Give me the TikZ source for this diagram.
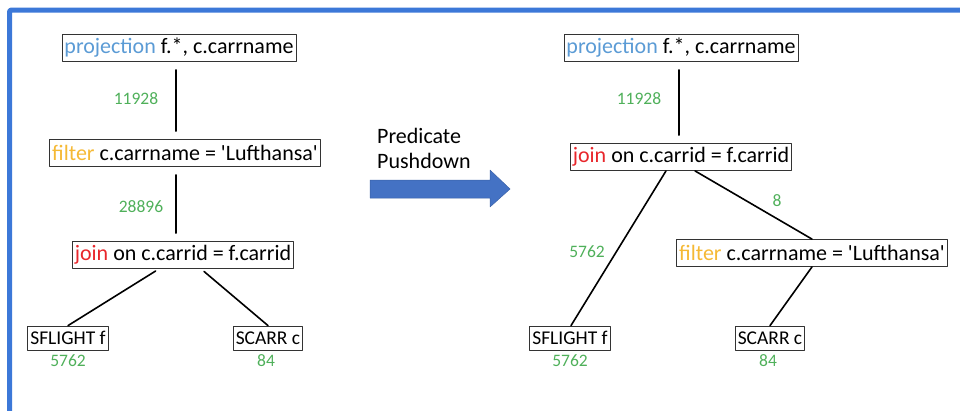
\documentclass[tikz,border=0pt]{standalone}
\usepackage{fontspec}
\setmainfont{Carlito}[Ligatures=TeXOff]
\definecolor{frameblue}{HTML}{3C78D8}
\definecolor{arrowblue}{HTML}{4472C4}
\definecolor{projblue}{HTML}{5B9BD5}
\definecolor{filtorange}{HTML}{F5B935}
\definecolor{joinred}{HTML}{E8262B}
\definecolor{rowgreen}{HTML}{4FB05A}
\begin{document}
\begin{tikzpicture}[x=1pt,y=-1pt,line join=round,line cap=round,
		op/.style={draw=black!80,line width=0.8pt,inner sep=2.5pt,minimum height=27pt,font=\fontsize{22}{26}\selectfont},
		tab/.style={draw=black!80,line width=0.8pt,inner sep=2.5pt,minimum height=24pt,font=\fontsize{19.5}{23}\selectfont},
		rows/.style={text=rowgreen,font=\fontsize{17.5}{20}\selectfont},
		edge/.style={line width=1.6pt}]
			\useasboundingbox (0,0) rectangle (960,410);
			\draw[frameblue,line width=5pt,line cap=butt,rounded corners=2pt] (9.5,412)--(9.5,10)--(962,10);
			% before pushdown
			\node[op] (p1) at (179,48) {\textcolor{projblue}{projection} f.*, c.carrname};
			\node[op] (f1) at (185,153) {\textcolor{filtorange}{filter} c.carrname = 'Lufthansa'};
			\node[op] (j1) at (183,255) {\textcolor{joinred}{join} on c.carrid = f.carrid};
			\node[tab] (s1) at (68,338) {SFLIGHT f};
			\node[tab] (c1) at (268,338) {SCARR c};
			\draw[edge,shorten <=8pt,shorten >=8pt] (p1.south-|176,0)--(f1.north-|176,0);
			\draw[edge,shorten <=8pt,shorten >=8pt] (f1.south-|176,0)--(j1.north-|176,0);
			\draw[edge,shorten <=4pt] ([xshift=-24pt]j1.south)--(s1.north);
			\draw[edge,shorten <=4pt] ([xshift=18pt]j1.south)--(c1.north);
			\node[rows] (n11) at (136,99) {11928};
			\node[rows] (n12) at (141,207) {28896};
			\node[rows] (n13) at (68,361) {5762};
			\node[rows] (n14) at (266,361) {84};
			% the rewrite
			\node[anchor=north west,align=left,inner sep=0pt,font=\fontsize{22}{25}\selectfont] (txt) at (377,128) {Predicate\\Pushdown};
			\draw[fill=arrowblue,draw=arrowblue!85!black,line width=0.5pt]
				(370,180)--(490,180)--(490,170)--(510,189)--(490,207)--(490,198)--(370,198)--cycle;
			% after pushdown
			\node[op] (p2) at (681,48) {\textcolor{projblue}{projection} f.*, c.carrname};
			\node[op] (j2) at (681,157) {\textcolor{joinred}{join} on c.carrid = f.carrid};
			\node[op] (f2) at (812,253) {\textcolor{filtorange}{filter} c.carrname = 'Lufthansa'};
			\node[tab] (s2) at (570,338) {SFLIGHT f};
			\node[tab] (c2) at (770,338) {SCARR c};
			\draw[edge,shorten <=8pt,shorten >=8pt] (p2.south-|679,0)--(j2.north-|679,0);
			\draw[edge] ([xshift=-15pt]j2.south)--([xshift=1pt]s2.north);
			\draw[edge] ([xshift=14pt]j2.south)--(f2.north);
			\draw[edge] (f2.south)--(c2.north);
			\node[rows] (n21) at (639,99) {11928};
			\node[rows] (n22) at (587,252) {5762};
			\node[rows] (n23) at (777,201) {8};
			\node[rows] (n24) at (570,361) {5762};
			\node[rows] (n25) at (768,361) {84};
		\end{tikzpicture}
\end{document}
